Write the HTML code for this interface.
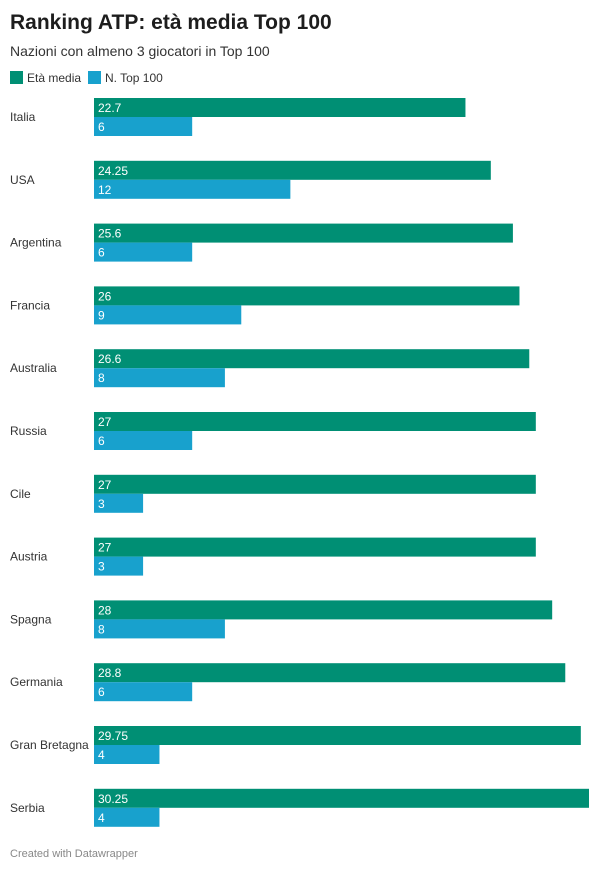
<!DOCTYPE html>
<html><head><meta charset="utf-8"><style>
body{margin:0;background:#fff;font-family:"Liberation Sans",sans-serif;}
#c{position:relative;width:600px;height:870px;overflow:hidden}
</style></head><body>
<div id="c">
<svg width="600" height="870">
<text x="10" y="29" font-size="21" font-weight="bold" fill="#1d1d1d">Ranking ATP: età media Top 100</text>
<text x="10" y="56" font-size="14" fill="#333">Nazioni con almeno 3 giocatori in Top 100</text>
<g>
<rect x="10" y="71" width="13" height="13" fill="#008f74"/>
<text x="27" y="82" font-size="12" fill="#333">Età media</text>
<rect x="88" y="71" width="13" height="13" fill="#18a1cd"/>
<text x="105" y="82" font-size="12" fill="#333">N. Top 100</text>
</g>
<g id="bars"></g>
<text x="10" y="857" font-size="11" fill="#888">Created with Datawrapper</text>
</svg>
</div>
<script>
const categories=["Italia","USA","Argentina","Francia","Australia","Russia","Cile","Austria","Spagna","Germania","Gran Bretagna","Serbia"];
const etaMedia=[22.7,24.25,25.6,26,26.6,27,27,27,28,28.8,29.75,30.25];
const nTop100=[6,12,6,9,8,6,3,3,8,6,4,4];
const etaLabels=["22.7","24.25","25.6","26","26.6","27","27","27","28","28.8","29.75","30.25"];
const topLabels=["6","12","6","9","8","6","3","3","8","6","4","4"];
const x0=94,pxPerUnit=(589-94)/30.25,y0=98,step=62.8,bh=19;
const xs=v=>v*pxPerUnit;
const g=document.getElementById('bars');
const NS="http://www.w3.org/2000/svg";
function mk(t,a){const e=document.createElementNS(NS,t);for(const k in a)e.setAttribute(k,a[k]);return e;}
categories.forEach((c,i)=>{
 const y=y0+i*step;
 const lab=mk('text',{x:10,y:y+23,'font-size':12,fill:'#333'});
 
 
 lab.textContent=c;g.appendChild(lab);
 const b1=mk('rect',{x:x0,y:y,width:xs(etaMedia[i]),height:bh,fill:'#008f74'});
 
 
 g.appendChild(b1);
 const t1=mk('text',{x:x0+4,y:y+14,'font-size':12,fill:'#fff'});
 
 
 t1.textContent=etaLabels[i];g.appendChild(t1);
 const b2=mk('rect',{x:x0,y:y+bh,width:xs(nTop100[i]),height:bh,fill:'#18a1cd'});
 
 
 g.appendChild(b2);
 const t2=mk('text',{x:x0+4,y:y+bh+14,'font-size':12,fill:'#fff'});
 
 
 t2.textContent=topLabels[i];g.appendChild(t2);
});
</script>
</body></html>
